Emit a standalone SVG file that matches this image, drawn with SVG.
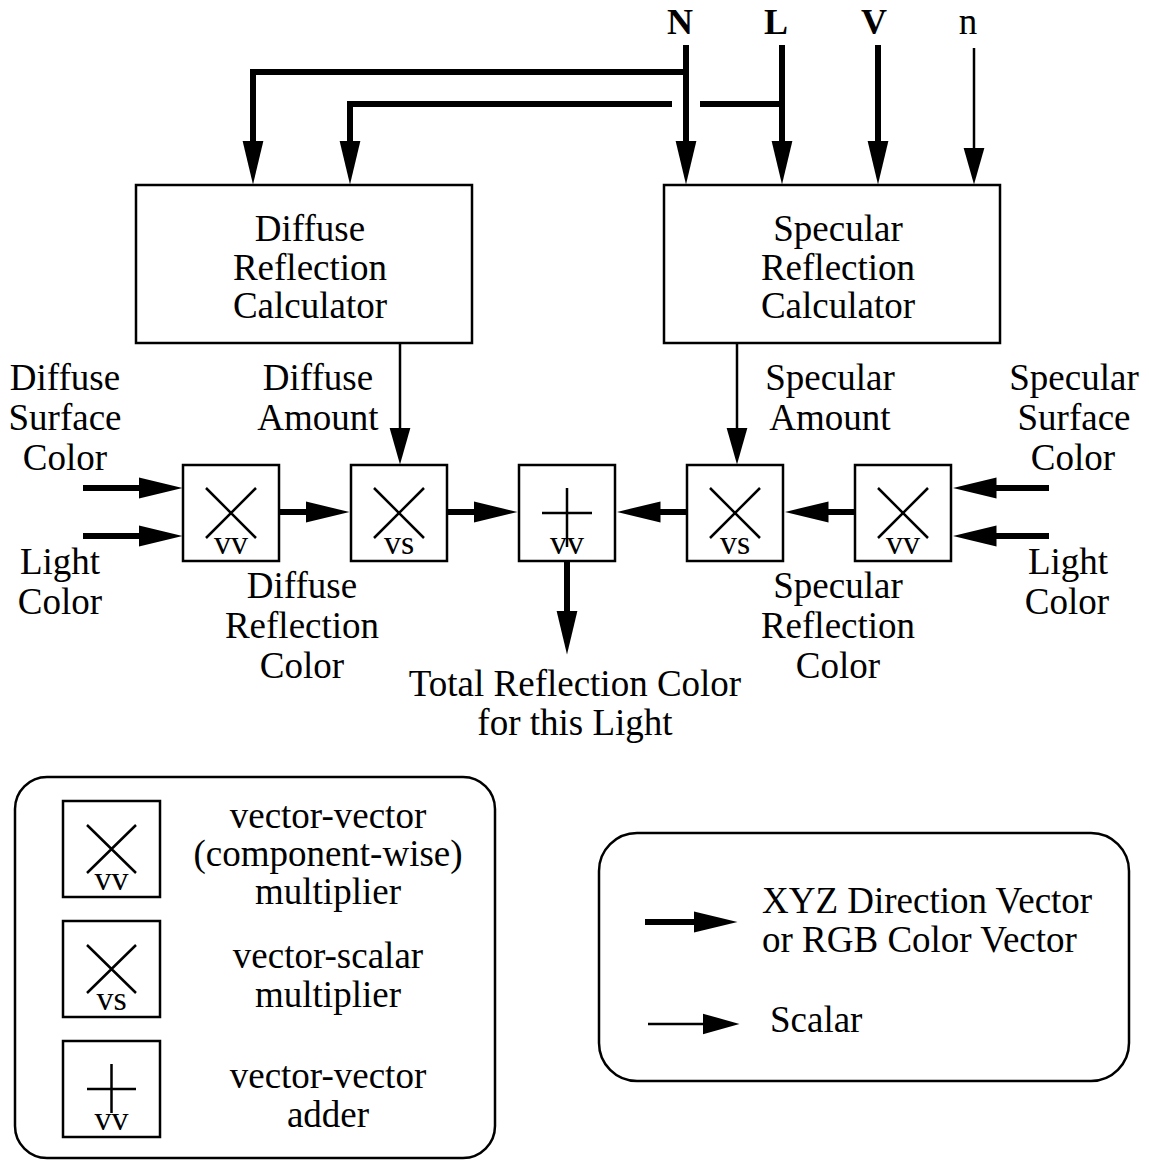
<svg xmlns="http://www.w3.org/2000/svg" width="1149" height="1160" viewBox="0 0 1149 1160">
<style>
text{font-family:"Liberation Serif","Times New Roman",serif;font-size:37px;fill:#000;text-anchor:middle}
.b{font-weight:bold;font-size:36px}
.s{font-size:34px}
.l{text-anchor:start}
.box{fill:#fff;stroke:#000;stroke-width:2.5}
.sym{fill:none;stroke:#000;stroke-width:2.5}
.thick{fill:none;stroke:#000;stroke-width:6;stroke-linejoin:miter;stroke-linecap:butt}
.thin{fill:none;stroke:#000;stroke-width:2.5}
.ah{marker-end:url(#ah)}
.at{marker-end:url(#at)}
</style>
<defs>
<marker id="ah" markerUnits="userSpaceOnUse" markerWidth="44" markerHeight="22" viewBox="0 0 44 22" refX="0.5" refY="11" orient="auto"><path d="M0,0.5 L44,11 L0,21.5 z" fill="#000"/></marker>
<marker id="at" markerUnits="userSpaceOnUse" markerWidth="37" markerHeight="22" viewBox="0 0 37 22" refX="0.5" refY="11" orient="auto"><path d="M0,0.5 L37,11 L0,21.5 z" fill="#000"/></marker>
</defs>
<rect width="1149" height="1160" fill="#fff"/>

<g id="inputs-top">
<text class="b" x="680" y="34">N</text>
<text class="b" x="776" y="34">L</text>
<text class="b" x="874" y="34">V</text>
<text x="968" y="34">n</text>
</g>

<g id="diffuse-calc">
<rect class="box" x="136" y="185" width="336" height="158"/>
<text x="310" y="241">Diffuse</text>
<text x="310" y="280">Reflection</text>
<text x="310" y="318">Calculator</text>
</g>
<g id="specular-calc">
<rect class="box" x="664" y="185" width="336" height="158"/>
<text x="838" y="241">Specular</text>
<text x="838" y="280">Reflection</text>
<text x="838" y="318">Calculator</text>
</g>

<g id="mul-vv-diffuse">
<rect class="box" x="183" y="465" width="96" height="96"/>
<path class="sym" d="M206,488 L256,538 M256,488 L206,538"/>
<text class="s" x="231" y="554">vv</text>
</g>
<g id="mul-vs-diffuse">
<rect class="box" x="351" y="465" width="96" height="96"/>
<path class="sym" d="M374,488 L424,538 M424,488 L374,538"/>
<text class="s" x="399" y="554">vs</text>
</g>
<g id="adder">
<rect class="box" x="519" y="465" width="96" height="96"/>
<path class="sym" d="M542,513 H592 M567,488 V547"/>
<text class="s" x="567" y="554">vv</text>
</g>
<g id="mul-vs-specular">
<rect class="box" x="687" y="465" width="96" height="96"/>
<path class="sym" d="M710,488 L760,538 M760,488 L710,538"/>
<text class="s" x="735" y="554">vs</text>
</g>
<g id="mul-vv-specular">
<rect class="box" x="855" y="465" width="96" height="96"/>
<path class="sym" d="M878,488 L928,538 M928,488 L878,538"/>
<text class="s" x="903" y="554">vv</text>
</g>

<g id="labels">
<text x="65" y="390">Diffuse</text>
<text x="65" y="430">Surface</text>
<text x="65" y="470">Color</text>
<text x="60" y="574">Light</text>
<text x="60" y="614">Color</text>
<text x="318" y="390">Diffuse</text>
<text x="318" y="430">Amount</text>
<text x="830" y="390">Specular</text>
<text x="830" y="430">Amount</text>
<text x="1074" y="390">Specular</text>
<text x="1074" y="430">Surface</text>
<text x="1073" y="470">Color</text>
<text x="1068" y="574">Light</text>
<text x="1067" y="614">Color</text>
<text x="302" y="598">Diffuse</text>
<text x="302" y="638">Reflection</text>
<text x="302" y="678">Color</text>
<text x="838" y="598">Specular</text>
<text x="838" y="638">Reflection</text>
<text x="838" y="678">Color</text>
<text x="575" y="696">Total Reflection Color</text>
<text x="575" y="735">for this Light</text>
</g>

<g id="connectors">
<path class="thick ah" d="M686,45 V141"/>
<path class="thick ah" d="M686,72 H253 V141"/>
<path class="thick ah" d="M672,104 H350 V141"/>
<path class="thick" d="M700,104 H782"/>
<path class="thick ah" d="M782,45 V141"/>
<path class="thick ah" d="M878,45 V141"/>
<path class="thin at" d="M974,48 V148"/>
<path class="thin at" d="M400,343 V428"/>
<path class="thin at" d="M737,343 V428"/>
<path class="thick ah" d="M83,488 H139"/>
<path class="thick ah" d="M83,536 H139"/>
<path class="thick ah" d="M279,512 H306"/>
<path class="thick ah" d="M447,512 H474"/>
<path class="thick ah" d="M687,512 H660"/>
<path class="thick ah" d="M855,512 H828"/>
<path class="thick ah" d="M1049,488 H996"/>
<path class="thick ah" d="M1049,536 H996"/>
<path class="thick ah" d="M567,561 V611"/>
</g>

<g id="legend-operators">
<rect x="15" y="777" width="480" height="381" rx="32" ry="32" fill="none" stroke="#000" stroke-width="2.5"/>
<rect class="box" x="63" y="801" width="97" height="96"/>
<path class="sym" d="M87,825 L136,873 M136,825 L87,873"/>
<text class="s" x="111.5" y="890">vv</text>
<rect class="box" x="63" y="921" width="97" height="96"/>
<path class="sym" d="M87,945 L136,993 M136,945 L87,993"/>
<text class="s" x="111.5" y="1010">vs</text>
<rect class="box" x="63" y="1041" width="97" height="96"/>
<path class="sym" d="M87,1089 H136 M111.5,1064 V1113"/>
<text class="s" x="111.5" y="1130">vv</text>
<text x="328" y="828">vector-vector</text>
<text x="328" y="866">(component-wise)</text>
<text x="328" y="904">multiplier</text>
<text x="328" y="968">vector-scalar</text>
<text x="328" y="1007">multiplier</text>
<text x="328" y="1088">vector-vector</text>
<text x="328" y="1127">adder</text>
</g>

<g id="legend-arrows">
<rect x="599" y="833" width="530" height="248" rx="38" ry="38" fill="none" stroke="#000" stroke-width="2.5"/>
<path class="thick ah" d="M645,922 H694"/>
<path class="thin at" d="M648,1024 H703"/>
<text class="l" x="762" y="913">XYZ Direction Vector</text>
<text class="l" x="762" y="952">or RGB Color Vector</text>
<text class="l" x="770" y="1032">Scalar</text>
</g>
</svg>
